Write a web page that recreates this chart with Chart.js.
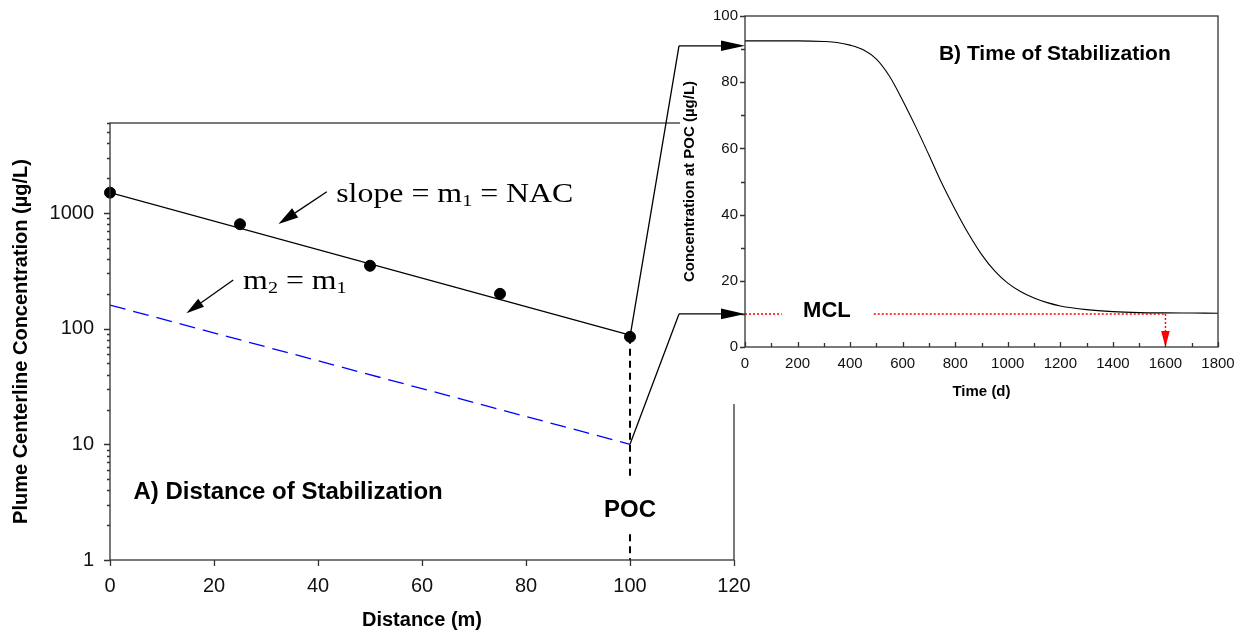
<!DOCTYPE html>
<html lang="en">
<head>
<meta charset="utf-8" />
<title>Distance and Time of Stabilization</title>
<style>
  html, body { margin: 0; padding: 0; background: #ffffff; }
  #wrap { position: relative; width: 1245px; height: 641px; overflow: hidden; }
  #wrap canvas { position: absolute; }
  #leftChart { left: 0; top: 0; }
  #rightChart { left: 680px; top: 0; background: #ffffff; }
  #overlay { left: 0; top: 0; pointer-events: none; }
</style>
</head>
<body>
<div id="wrap">
  <canvas id="leftChart" width="1245" height="641"></canvas>
  <canvas id="rightChart" width="565" height="404"></canvas>
  <canvas id="overlay" width="1245" height="641"></canvas>
</div>

<script src="https://cdn.jsdelivr.net/npm/chart.js"></script>
<script>
// ---- A) distance of stabilization ----
const distance = [0, 25, 50, 75, 100];
const plumeConc = [1500, 800, 350, 200, 85];
const fitDistance = [0, 100];
const fitConc = [1500, 88];         // slope = m1 = NAC
const m2Conc = [160, 10];           // m2 = m1, ends at MCL at POC
const pocDistance = 100;
const pocLineConc = [85, 5, null, 1.67, 1];
const distTicks = [0, 20, 40, 60, 80, 100, 120];
const concDecades = [1, 10, 100, 1000];
const concMax = 6000;

// ---- B) time of stabilization ----
const time = [0, 100, 200, 300, 350, 400, 450, 500, 550, 600, 650, 700, 750, 800, 850,
  900, 950, 1000, 1050, 1100, 1150, 1200, 1300, 1400, 1500, 1600, 1700, 1800];
const pocConc = [92.5, 92.5, 92.5, 92.3, 92, 91.2, 89.8, 87, 81.8, 74.5, 66.5, 58, 49.3, 41.5, 34.3,
  28, 23, 19.3, 16.7, 14.8, 13.4, 12.4, 11.3, 10.7, 10.4, 10.3, 10.25, 10.2];
const mcl = 10;
const mclLineTime = [0, 140, null, 490, 1600];
const stabTime = 1600;
const startArrowConc = 91;

Chart.defaults.font.family = '"Liberation Sans", Arial, sans-serif';
Chart.defaults.color = '#111';

const AXIS = '#333';

function arrowHead(ctx, x1, y1, x2, y2, len, half, color) {
  const a = Math.atan2(y2 - y1, x2 - x1);
  const bx = x2 - len * Math.cos(a), by = y2 - len * Math.sin(a);
  ctx.fillStyle = color;
  ctx.beginPath();
  ctx.moveTo(x2, y2);
  ctx.lineTo(bx + half * Math.sin(a), by - half * Math.cos(a));
  ctx.lineTo(bx - half * Math.sin(a), by + half * Math.cos(a));
  ctx.closePath();
  ctx.fill();
  return [bx, by];
}

function arrow(ctx, x1, y1, x2, y2, len, half, color) {
  ctx.save();
  const [bx, by] = arrowHead(ctx, x1, y1, x2, y2, len, half, color);
  ctx.strokeStyle = color;
  ctx.lineWidth = 1.3;
  ctx.beginPath();
  ctx.moveTo(x1, y1);
  ctx.lineTo(bx, by);
  ctx.stroke();
  ctx.restore();
}

// times-like text with subscripts, a bit stretched like the original
function serifText(ctx, parts, x, y) {
  ctx.save();
  ctx.translate(x, y);
  ctx.scale(1.18, 1);
  ctx.fillStyle = '#000';
  ctx.textAlign = 'left';
  ctx.textBaseline = 'alphabetic';
  let cx = 0;
  parts.forEach(([s, sub]) => {
    ctx.font = (sub ? 17 : 27) + 'px "Liberation Serif", "Times New Roman", serif';
    ctx.fillText(s, cx, sub ? 4 : 0);
    cx += ctx.measureText(s).width;
  });
  ctx.restore();
}

// frame + tick marks (major/minor lengths, in or out)
const frameTicks = {
  id: 'frameTicks',
  afterDraw(chart, args, opts) {
    const ctx = chart.ctx, a = chart.chartArea;
    ctx.save();
    ctx.strokeStyle = AXIS;
    ctx.lineWidth = 1.3;
    ctx.strokeRect(a.left, a.top, a.right - a.left, a.bottom - a.top);
    ctx.beginPath();
    ['x', 'y'].forEach(id => {
      const s = chart.scales[id], o = opts[id];
      s.ticks.forEach(t => {
        const p = Math.round(s.getPixelForValue(t.value)) + 0.5;
        const len = (o.isMajor(t.value) ? o.major : o.minor) * o.dir;
        if (id === 'x') {
          ctx.moveTo(p, a.bottom);
          ctx.lineTo(p, a.bottom + len);
        } else {
          ctx.moveTo(a.left, p);
          ctx.lineTo(a.left - len, p);
        }
      });
    });
    ctx.stroke();
    ctx.restore();
  }
};

const leftNotes = {
  id: 'leftNotes',
  afterDatasetsDraw(chart) {
    const ctx = chart.ctx, x = chart.scales.x, y = chart.scales.y;
    const px = v => x.getPixelForValue(v), py = v => y.getPixelForValue(v);
    arrow(ctx, px(41.7), py(1528), px(32.4), py(803), 20, 5.5, '#000');
    arrow(ctx, px(23.7), py(264), px(14.7), py(136), 18, 5, '#000');
    serifText(ctx, [['slope = m'], ['1', 1], [' = NAC']], px(43.5), py(1245));
    serifText(ctx, [['m'], ['2', 1], [' = m'], ['1', 1]], px(25.6), py(219));
    ctx.save();
    ctx.fillStyle = '#000';
    ctx.font = 'bold 24px "Liberation Sans", Arial, sans-serif';
    ctx.textBaseline = 'alphabetic';
    ctx.textAlign = 'left';
    ctx.fillText('A) Distance of Stabilization', px(4.5), py(3.37));
    ctx.textAlign = 'center';
    ctx.fillText('POC', px(pocDistance), py(2.37));
    ctx.restore();
  }
};

const rightNotes = {
  id: 'rightNotes',
  afterDatasetsDraw(chart) {
    const ctx = chart.ctx, x = chart.scales.x, y = chart.scales.y;
    const px = v => x.getPixelForValue(v), py = v => y.getPixelForValue(v);
    ctx.save();
    ctx.fillStyle = '#000';
    ctx.textBaseline = 'alphabetic';
    ctx.textAlign = 'left';
    ctx.font = 'bold 21px "Liberation Sans", Arial, sans-serif';
    ctx.fillText('B) Time of Stabilization', px(738), py(86.7));
    ctx.font = 'bold 22px "Liberation Sans", Arial, sans-serif';
    ctx.fillText('MCL', px(221), py(9));
    arrowHead(ctx, px(stabTime), py(mcl), px(stabTime), py(0), 16, 4.3, '#ff0000');
    ctx.restore();
  }
};

function xy(xs, ys) {
  return xs.map((v, i) => ({ x: v, y: ys[i] }));
}

const leftTickValues = concDecades
  .flatMap(d => [1, 2, 3, 4, 5, 6, 7, 8, 9].map(k => k * d))
  .filter(v => v <= concMax);

const leftChart = new Chart(document.getElementById('leftChart'), {
  type: 'scatter',
  data: {
    datasets: [
      {
        data: xy(fitDistance, m2Conc),
        showLine: true,
        borderColor: '#0000ff',
        borderWidth: 1.3,
        borderDash: [16, 8],
        pointRadius: 0,
      },
      {
        data: pocLineConc.map(v => ({ x: pocDistance, y: v })),
        showLine: true,
        spanGaps: false,
        borderColor: '#000',
        borderWidth: 2,
        borderDash: [7, 5],
        pointRadius: 0,
      },
      {
        data: xy(fitDistance, fitConc),
        showLine: true,
        borderColor: '#000',
        borderWidth: 1.3,
        pointRadius: 0,
      },
      {
        data: xy(distance, plumeConc),
        clip: false,
        pointRadius: 5.5,
        pointBackgroundColor: '#000',
        pointBorderColor: '#000',
      },
    ],
  },
  options: {
    responsive: false,
    animation: false,
    devicePixelRatio: 1,
    events: [],
    layout: { padding: { top: 123, right: 511, left: 0, bottom: 0 } },
    plugins: {
      legend: { display: false },
      tooltip: { enabled: false },
      frameTicks: {
        x: { dir: 1, major: 6, minor: 6, isMajor: () => true },
        y: { dir: 1, major: 6, minor: 3, isMajor: v => concDecades.includes(v) },
      },
    },
    scales: {
      x: {
        type: 'linear',
        min: distTicks[0],
        max: distTicks[distTicks.length - 1],
        afterBuildTicks: s => { s.ticks = distTicks.map(v => ({ value: v })); },
        afterFit: s => { s.height = 81; },
        grid: { display: false, drawTicks: false },
        border: { display: false },
        ticks: { font: { size: 20 }, padding: 14, maxRotation: 0, autoSkip: false, color: '#111' },
        title: {
          display: true,
          text: 'Distance (m)',
          font: { size: 20, weight: 'bold' },
          color: '#000',
          padding: { top: 0, bottom: 9 },
        },
      },
      y: {
        type: 'logarithmic',
        min: 1,
        max: concMax,
        afterBuildTicks: s => { s.ticks = leftTickValues.map(v => ({ value: v })); },
        afterFit: s => { s.width = 110; },
        grid: { display: false, drawTicks: false },
        border: { display: false },
        ticks: {
          font: { size: 20 },
          padding: 16,
          autoSkip: false,
          color: '#111',
          callback: v => (concDecades.includes(v) ? String(v) : ''),
        },
        title: {
          display: true,
          text: 'Plume Centerline Concentration (µg/L)',
          font: { size: 20, weight: 'bold' },
          color: '#000',
          padding: { top: 9, bottom: 0 },
        },
      },
    },
  },
  plugins: [leftNotes, frameTicks],
});

const rightCanvas = document.getElementById('rightChart');
const rightChart = new Chart(rightCanvas, {
  type: 'scatter',
  data: {
    datasets: [
      {
        data: mclLineTime.map(t => ({ x: t, y: t === null ? null : mcl })),
        showLine: true,
        spanGaps: false,
        borderColor: '#ff0000',
        borderWidth: 1.5,
        borderDash: [2, 2],
        pointRadius: 0,
      },
      {
        data: [{ x: stabTime, y: mcl }, { x: stabTime, y: 4.8 }],
        showLine: true,
        borderColor: '#ff0000',
        borderWidth: 1.5,
        borderDash: [2, 2],
        pointRadius: 0,
      },
      {
        data: xy(time, pocConc),
        showLine: true,
        borderColor: '#000',
        borderWidth: 1.1,
        cubicInterpolationMode: 'monotone',
        pointRadius: 0,
      },
    ],
  },
  options: {
    responsive: false,
    animation: false,
    devicePixelRatio: 1,
    events: [],
    layout: { padding: { top: 16, right: 27, left: 0, bottom: 0 } },
    plugins: {
      legend: { display: false },
      tooltip: { enabled: false },
      frameTicks: {
        x: { dir: -1, major: 5, minor: 4, isMajor: v => v % 200 === 0 },
        y: { dir: 1, major: 5, minor: 4, isMajor: v => v % 20 === 0 },
      },
    },
    scales: {
      x: {
        type: 'linear',
        min: 0,
        max: 1800,
        afterFit: s => { s.height = 57; },
        grid: { display: false, drawTicks: false },
        border: { display: false },
        ticks: {
          stepSize: 100,
          autoSkip: false,
          maxRotation: 0,
          font: { size: 15 },
          padding: 8,
          color: '#111',
          callback: v => (v % 200 === 0 ? String(v) : ''),
        },
        title: {
          display: true,
          text: 'Time (d)',
          font: { size: 15, weight: 'bold' },
          color: '#000',
          padding: { top: 0, bottom: 3 },
        },
      },
      y: {
        type: 'linear',
        min: 0,
        max: 100,
        afterFit: s => { s.width = 65; },
        grid: { display: false, drawTicks: false },
        border: { display: false },
        ticks: {
          stepSize: 10,
          autoSkip: false,
          font: { size: 15 },
          padding: 7,
          color: '#111',
          callback: v => (v % 20 === 0 ? String(v) : ''),
        },
        title: {
          display: true,
          text: 'Concentration at POC (µg/L)',
          font: { size: 15, weight: 'bold' },
          color: '#000',
          padding: { top: 1, bottom: 0 },
        },
      },
    },
  },
  plugins: [rightNotes, frameTicks],
});

// connectors from panel A (POC) to panel B
(function drawConnectors() {
  const ctx = document.getElementById('overlay').getContext('2d');
  const L = leftChart.scales, R = rightChart.scales;
  const offX = rightCanvas.offsetLeft, offY = rightCanvas.offsetTop;
  const xPoc = L.x.getPixelForValue(pocDistance);
  const rx0 = offX + R.x.getPixelForValue(0);
  const bend = rx0 - 66;
  const yTop = offY + R.y.getPixelForValue(startArrowConc);
  const yMcl = offY + R.y.getPixelForValue(mcl);

  ctx.strokeStyle = '#000';
  ctx.lineWidth = 1.3;
  ctx.beginPath();
  ctx.moveTo(xPoc, L.y.getPixelForValue(plumeConc[plumeConc.length - 1]));
  ctx.lineTo(bend, yTop);
  ctx.moveTo(xPoc, L.y.getPixelForValue(m2Conc[1]));
  ctx.lineTo(bend, yMcl);
  ctx.stroke();
  arrow(ctx, bend, yTop, rx0, yTop, 24, 5.3, '#000');
  arrow(ctx, bend, yMcl, rx0, yMcl, 24, 5.3, '#000');
})();
</script>
</body>
</html>
